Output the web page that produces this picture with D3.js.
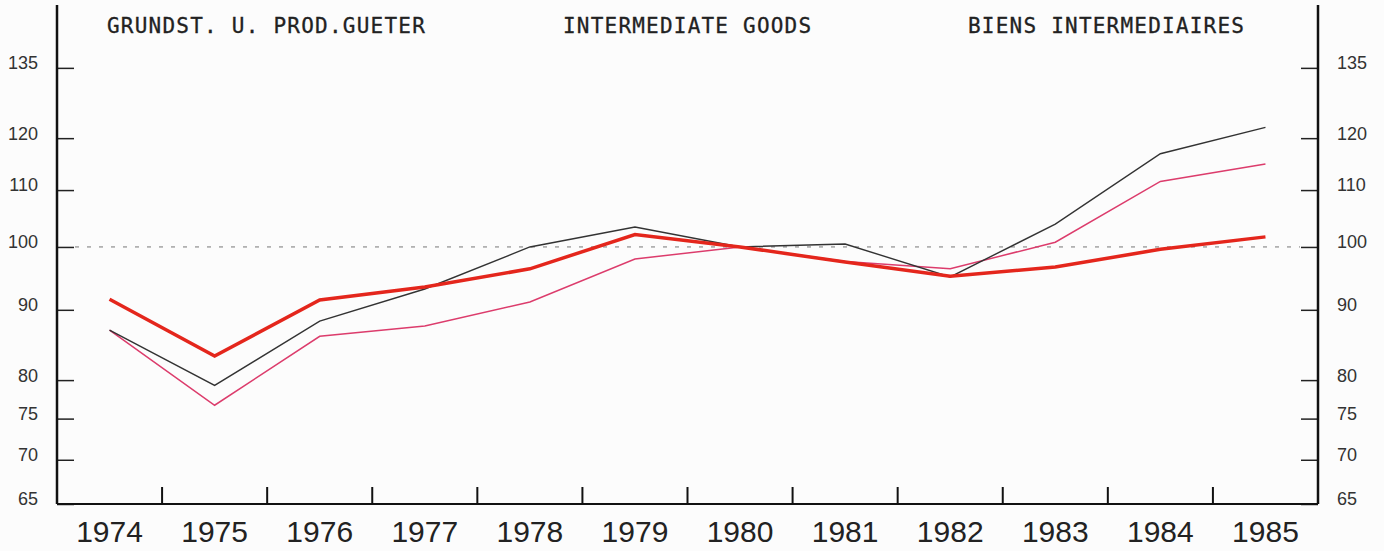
<!DOCTYPE html>
<html lang="en">
<head>
    <meta charset="UTF-8">
    <style>
        body { margin: 0; background: #fcfcfc; }
        .title { font: 21px "DejaVu Sans Mono", monospace; fill: #222; stroke: #222; stroke-width: 0.3; }
        .yax text { font: 18px "Liberation Sans", sans-serif; fill: #333; }
        .xax text { font: 30px "Liberation Sans", sans-serif; fill: #222; }
        .yax path, .xax path { display: none; }
    </style>
    <script src="https://d3js.org/d3.v7.min.js"></script>
    <title>Intermediate Goods</title>
</head>
<body>
    <svg width="1384" height="551"></svg>

    <script>

        // data (index, 1980 = 100)
        var years = ["1974", "1975", "1976", "1977", "1978", "1979", "1980", "1981", "1982", "1983", "1984", "1985"];
        var thickRed = [91.6, 83.3, 91.5, 93.5, 96.4, 102.1, 100, 97.5, 95.2, 96.7, 99.6, 101.7];
        var blackLine = [87.0, 79.3, 88.3, 93.2, 100, 103.4, 100, 100.5, 95.1, 103.9, 116.9, 122.2];
        var pinkLine = [87.0, 76.7, 86.1, 87.6, 91.2, 98.0, 100, 97.6, 96.4, 100.8, 111.6, 114.9];
        var yTicks = [65, 70, 75, 80, 90, 100, 110, 120, 135];
        var titles = ["GRUNDST. U. PROD.GUETER", "INTERMEDIATE GOODS", "BIENS INTERMEDIAIRES"];

        var svg = d3.select("svg");

        // plot frame (note: "top" is reserved on window, so use other names)
        var frameL = 57, frameR = 1318, frameT = 5, frameB = 504;

        var x = d3.scaleBand().domain(years).range([frameL, frameR]);
        var y = d3.scaleLog().domain([65, 150]).range([frameB, frameT]);

        // dotted reference line at 100
        svg.append("line")
           .attr("x1", frameL + 18).attr("x2", frameR - 18)
           .attr("y1", y(100)).attr("y2", y(100))
           .attr("stroke", "#777")
           .attr("stroke-width", 1)
           .attr("stroke-dasharray", "4,8");

        // left axis, ticks pointing inward, labels outside
        var yl = svg.append("g")
                    .attr("class", "yax")
                    .attr("transform", "translate(" + frameL + ",0)")
                    .call(d3.axisRight(y).tickValues(yTicks).tickSize(17).tickFormat(d3.format("d")));
        yl.selectAll("line").attr("stroke", "#222").attr("stroke-width", 1.5);
        yl.selectAll("text").attr("x", -19).attr("dy", "0.05em").attr("text-anchor", "end");

        var yr = svg.append("g")
                    .attr("class", "yax")
                    .attr("transform", "translate(" + frameR + ",0)")
                    .call(d3.axisLeft(y).tickValues(yTicks).tickSize(17).tickFormat(d3.format("d")));
        yr.selectAll("line").attr("stroke", "#222").attr("stroke-width", 1.5);
        yr.selectAll("text").attr("x", 19).attr("dy", "0.05em").attr("text-anchor", "start");

        // frame lines
        svg.append("line").attr("x1", frameL).attr("x2", frameL).attr("y1", frameT).attr("y2", frameB)
           .attr("stroke", "#111").attr("stroke-width", 2.5);
        svg.append("line").attr("x1", frameR).attr("x2", frameR).attr("y1", frameT).attr("y2", frameB)
           .attr("stroke", "#111").attr("stroke-width", 2.5);
        svg.append("line").attr("x1", frameL).attr("x2", frameR).attr("y1", frameB).attr("y2", frameB)
           .attr("stroke", "#111").attr("stroke-width", 2.2);

        // x axis labels
        var xa = svg.append("g")
                    .attr("class", "xax")
                    .attr("transform", "translate(0," + frameB + ")")
                    .call(d3.axisBottom(x).tickSize(0));
        xa.selectAll("text").attr("y", 38).attr("dy", null);

        // tick marks between years
        svg.selectAll(".sep")
           .data(years.slice(0, -1))
           .enter().append("line")
           .attr("class", "sep")
           .attr("x1", function(d) { return x(d) + x.bandwidth(); })
           .attr("x2", function(d) { return x(d) + x.bandwidth(); })
           .attr("y1", frameB)
           .attr("y2", frameB - 17)
           .attr("stroke", "#111")
           .attr("stroke-width", 2);

        var line = d3.line()
                     .x(function(d, i) { return x(years[i]) + x.bandwidth() / 2; })
                     .y(function(d) { return y(d); });

        svg.append("path").datum(pinkLine)
           .attr("d", line).attr("fill", "none")
           .attr("stroke", "#dc3c6c").attr("stroke-width", 1.5);

        svg.append("path").datum(blackLine)
           .attr("d", line).attr("fill", "none")
           .attr("stroke", "#333").attr("stroke-width", 1.4);

        svg.append("path").datum(thickRed)
           .attr("d", line).attr("fill", "none")
           .attr("stroke", "#e4261c").attr("stroke-width", 3.5);

        // titles
        var titleX = [107, 563, 968];
        svg.selectAll(".title")
           .data(titles)
           .enter().append("text")
           .attr("class", "title")
           .attr("x", function(d, i) { return titleX[i]; })
           .attr("y", 33)
           .attr("textLength", function(d) { return d.length * 13.95 - 3; })
           .attr("lengthAdjust", "spacing")
           .text(function(d) { return d; });

    </script>
</body>
</html>
